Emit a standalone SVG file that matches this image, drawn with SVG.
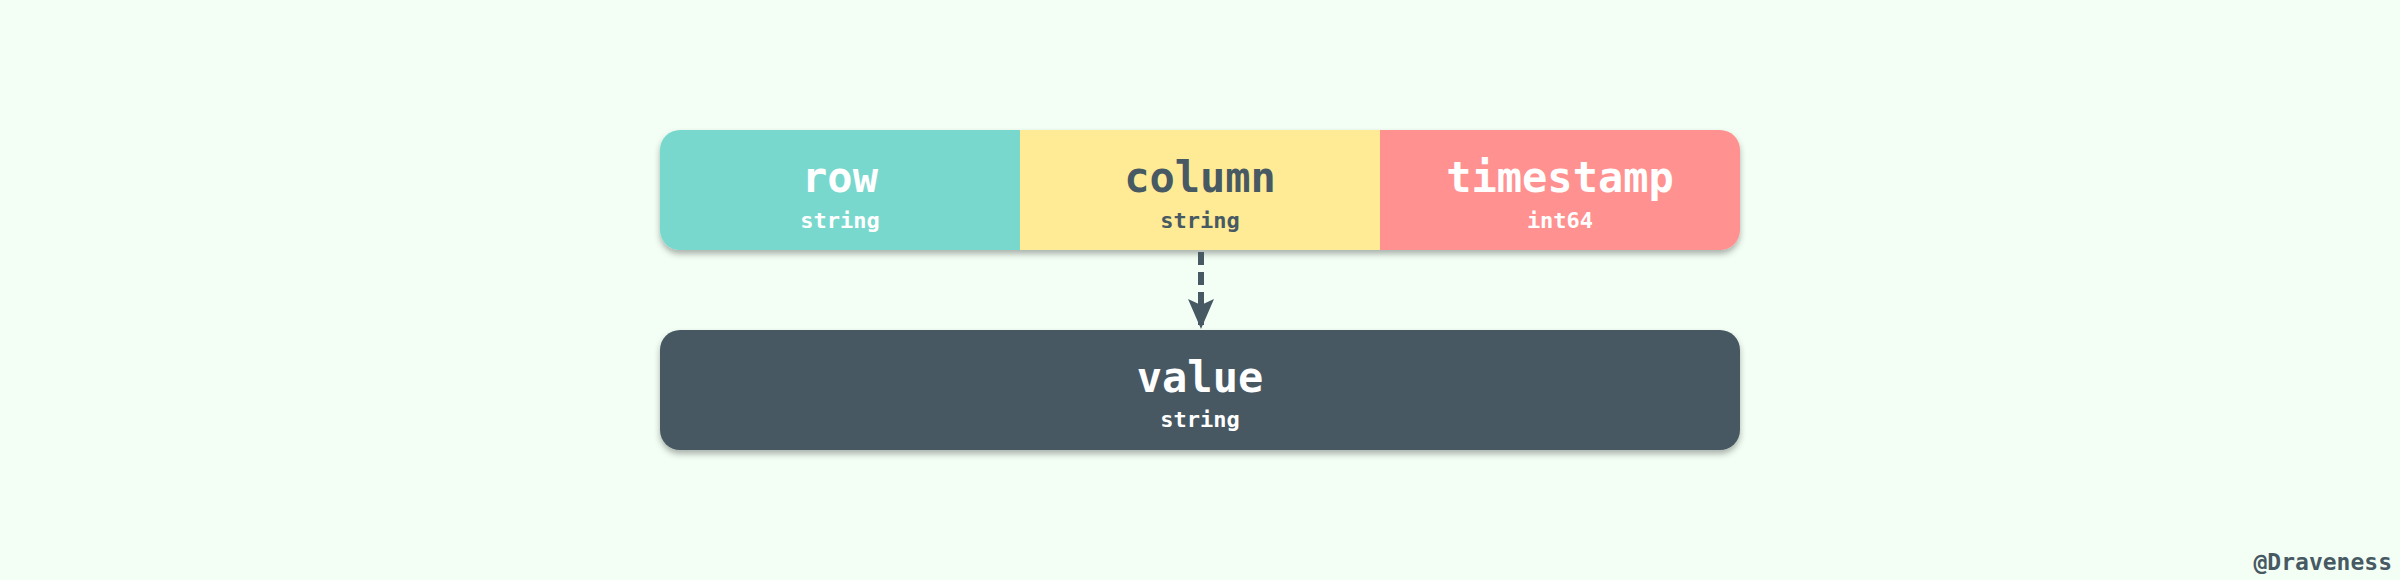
<svg xmlns="http://www.w3.org/2000/svg" width="2400" height="580" viewBox="0 0 2400 580">
<style>
.t{font-family:"DejaVu Sans Mono","Liberation Mono",monospace;font-weight:bold;text-anchor:middle}
.big{font-size:42px}
.small{font-size:22px}
.w{fill:#ffffff}
.d{fill:#475963}
</style>
<defs>
<filter id="sh" x="-5%" y="-20%" width="110%" height="150%">
<feDropShadow dx="0" dy="4" stdDeviation="3" flood-color="#000000" flood-opacity="0.3"/>
</filter>
<clipPath id="topclip"><rect x="660" y="130" width="1080" height="120" rx="20" ry="20"/></clipPath>
<marker id="ah" viewBox="0 0 30 26" refX="30" refY="13" markerWidth="30" markerHeight="26" markerUnits="userSpaceOnUse" orient="auto">
<path d="M0 0 L6 13 L0 26 L30 13 Z" fill="#475963"/>
</marker>
</defs>
<rect width="2400" height="580" fill="#F3FFF5"/>
<g id="key" filter="url(#sh)">
<g clip-path="url(#topclip)">
<g id="row"><rect x="660" y="130" width="360" height="120" fill="#79D8CD"/></g>
<g id="column"><rect x="1020" y="130" width="360" height="120" fill="#FFEA96"/></g>
<g id="timestamp"><rect x="1380" y="130" width="360" height="120" fill="#FF9190"/></g>
</g>
</g>
<text class="t big w" x="840" y="192">row</text>
<text class="t small w" x="840" y="228">string</text>
<text class="t big d" x="1200" y="192">column</text>
<text class="t small d" x="1200" y="228">string</text>
<text class="t big w" x="1560" y="192">timestamp</text>
<text class="t small w" x="1560" y="228">int64</text>
<g id="value">
<rect x="660" y="330" width="1080" height="120" rx="20" ry="20" fill="#475963" filter="url(#sh)"/>
<text class="t big w" x="1200" y="392">value</text>
<text class="t small w" x="1200" y="427">string</text>
</g>
<g id="connectors">
<line x1="1201" y1="252" x2="1201" y2="329" stroke="#475963" stroke-width="6" stroke-dasharray="13 7" marker-end="url(#ah)"/>
</g>
<text class="t" x="2392" y="570" style="font-size:23px;text-anchor:end" fill="#475963">@Draveness</text>
</svg>
